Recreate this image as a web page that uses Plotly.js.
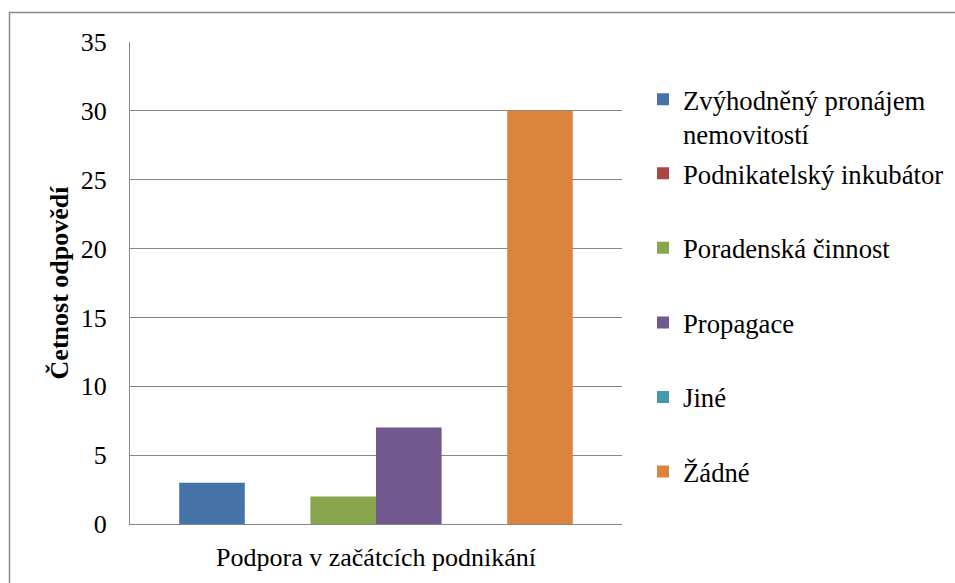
<!DOCTYPE html>
<html>
<head>
<meta charset="utf-8">
<script src="https://cdn.plot.ly/plotly-3.0.1.min.js"></script>
<style>html,body{margin:0;padding:0;background:#fff;}#chart{width:955px;height:583px;}</style>
</head>
<body>
<div id="chart"></div>
<script>
const categories = ["Podpora v začátcích podnikání"];
const seriesNames = ["Zvýhodněný pronájem<br>nemovitostí", "Podnikatelský inkubátor", "Poradenská činnost", "Propagace", "Jiné", "Žádné"];
const seriesValues = [[3], [0], [2], [7], [0], [30]];
const seriesColors = ["#4572A7", "#AA4643", "#89A54E", "#71588F", "#4198AF", "#DB843D"];
const yTickVals = [0, 5, 10, 15, 20, 25, 30, 35];
const yAxisTitle = "Četnost odpovědí";

const W = 955, H = 583;
const L = 130, R = 333, T = 42, B = 59;
const pw = W - L - R, ph = H - T - B;
const px = v => (v - L) / pw;
const py = v => (H - B - v) / ph;

const FAM = 'Liberation Serif, Times New Roman, serif';
const mkFont = (s) => ({family: FAM, size: s || 26, color: '#000000'});

const traces = seriesNames.map((n, i) => ({
  type: 'bar',
  x: categories,
  y: seriesValues[i],
  name: n,
  marker: {color: seriesColors[i], line: {width: 0}},
  legend: i === 0 ? 'legend' : 'legend2',
  legendgroup: 'g' + i,
  hoverinfo: 'y+name'
}));

const layout = {
  width: W, height: H,
  margin: {l: L, r: R, t: T, b: B, pad: 0, autoexpand: false},
  paper_bgcolor: '#ffffff', plot_bgcolor: '#ffffff',
  font: mkFont(),
  barmode: 'group',
  bargap: 0.2,
  bargroupgap: 0,
  showlegend: true,
  xaxis: {
    type: 'category',
    showgrid: false, zeroline: false,
    showline: true, linecolor: '#868686', linewidth: 1,
    ticks: 'outside', ticklen: 10, tickcolor: 'rgba(0,0,0,0)',
    tickfont: mkFont(), fixedrange: true, automargin: false
  },
  yaxis: {
    range: [0, 35], tickvals: yTickVals, ticktext: yTickVals.map(String),
    showgrid: true, gridcolor: '#868686', gridwidth: 1,
    zeroline: false, showline: true, linecolor: '#868686', linewidth: 1,
    ticks: 'outside', ticklen: 17, tickcolor: 'rgba(0,0,0,0)',
    tickfont: mkFont(),
    title: {text: '<b>' + yAxisTitle + '</b>', font: mkFont(), standoff: 4},
    fixedrange: true, automargin: false
  },
  legend: {
    x: px(643), xanchor: 'left', y: py(75.5), yanchor: 'top',
    font: mkFont(26.7), bgcolor: 'rgba(0,0,0,0)', borderwidth: 0,
    valign: 'top', itemclick: false, itemdoubleclick: false
  },
  legend2: {
    x: px(643), xanchor: 'left', y: py(149.5), yanchor: 'top',
    font: mkFont(26.7), bgcolor: 'rgba(0,0,0,0)', borderwidth: 0,
    traceorder: 'grouped', tracegroupgap: 36.8,
    itemclick: false, itemdoubleclick: false
  },
  shapes: [{
    type: 'rect', xref: 'paper', yref: 'paper',
    x0: px(9.5), x1: px(970), y0: py(600), y1: py(12.5),
    line: {color: '#898989', width: 1.5}, fillcolor: 'rgba(0,0,0,0)', layer: 'below'
  }]
};

Plotly.newPlot('chart', traces, layout, {displayModeBar: false});
</script>
</body>
</html>
